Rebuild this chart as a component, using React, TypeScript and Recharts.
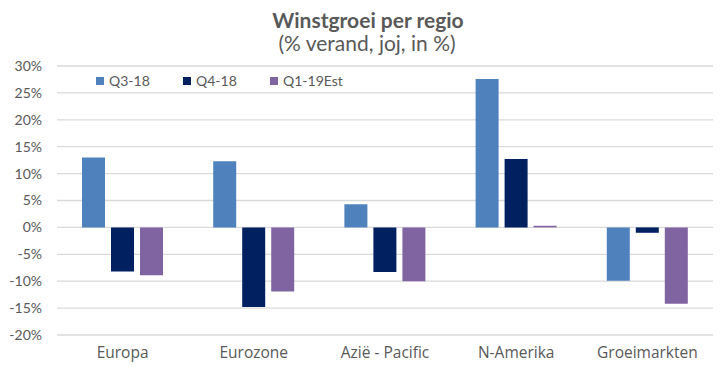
import React from "react";
import { BarChart, Bar, XAxis, YAxis, CartesianGrid } from "recharts";

const categories = ["Europa", "Eurozone", "Azië - Pacific", "N-Amerika", "Groeimarkten"];
const q318 = [13.0, 12.3, 4.3, 27.6, -9.9];
const q418 = [-8.2, -14.8, -8.3, 12.7, -1.0];
const q119 = [-8.9, -11.9, -10.0, 0.3, -14.2];
const yTicks = [-20, -15, -10, -5, 0, 5, 10, 15, 20, 25, 30];

const seriesNames = ["Q3-18", "Q4-18", "Q1-19Est"];
const colors = ["#4F81BD", "#002060", "#8064A2"];

const data = categories.map((c, i) => ({
  name: c,
  q3: q318[i],
  q4: q418[i],
  q1: q119[i],
}));

const FONT = "Lato, 'Open Sans', sans-serif";
const XFONT = "'Open Sans', Lato, sans-serif";
const GREY = "#595959";

export default function App() {
  return (
    <div style={{ position: "absolute", left: 0, top: 0, width: 728, height: 384, background: "#fff" }}>
      <div
        style={{
          position: "absolute",
          top: 9,
          left: 0,
          width: 736,
          textAlign: "center",
          fontFamily: FONT,
          fontWeight: 700,
          fontSize: 21,
          color: GREY,
          lineHeight: "22px",
        }}
      >
        Winstgroei per regio
      </div>
      <div
        style={{
          position: "absolute",
          top: 32,
          left: 0,
          width: 734,
          textAlign: "center",
          fontFamily: FONT,
          fontSize: 21,
          color: GREY,
          lineHeight: "22px",
        }}
      >
        (% verand, joj, in %)
      </div>
      <BarChart
        width={728}
        height={384}
        data={data}
        margin={{ top: 66, right: 15, left: 0, bottom: 0 }}
        barCategoryGap={25}
        barGap={6}
      >
        <CartesianGrid vertical={false} stroke="#D9D9D9" strokeWidth={1.3} />
        <XAxis
          dataKey="name"
          axisLine={false}
          tickLine={false}
          height={49}
          tickMargin={6}
          tick={{ fill: GREY, fontSize: 15.5, fontFamily: XFONT }}
          interval={0}
        />
        <YAxis
          width={57}
          domain={[-20, 30]}
          ticks={yTicks}
          axisLine={false}
          tickLine={false}
          tickMargin={9}
          tickFormatter={(v: number) => `${v}%`}
          tick={{ fill: GREY, fontSize: 14, fontFamily: FONT }}
        />
        <Bar dataKey="q3" name={seriesNames[0]} fill={colors[0]} isAnimationActive={false} />
        <Bar dataKey="q4" name={seriesNames[1]} fill={colors[1]} isAnimationActive={false} />
        <Bar dataKey="q1" name={seriesNames[2]} fill={colors[2]} isAnimationActive={false} />
      </BarChart>
      <div
        style={{
          position: "absolute",
          top: 73,
          left: 96,
          display: "flex",
          fontFamily: FONT,
          fontSize: 14,
          color: GREY,
          lineHeight: "16px",
        }}
      >
        {seriesNames.map((n, i) => (
          <div key={n} style={{ display: "flex", alignItems: "center", width: 87 }}>
            <span
              style={{
                display: "inline-block",
                width: 8,
                height: 8,
                background: colors[i],
                marginRight: 5,
              }}
            />
            <span>{n}</span>
          </div>
        ))}
      </div>
    </div>
  );
}
